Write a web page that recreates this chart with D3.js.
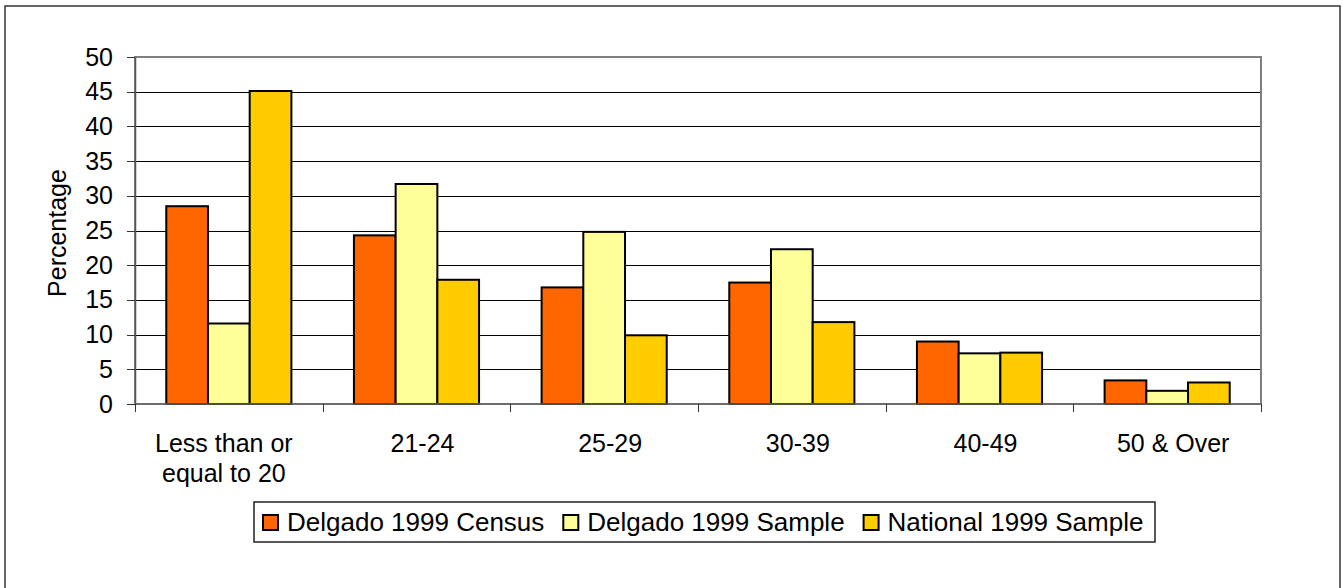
<!DOCTYPE html>
<html>
<head>
<meta charset="utf-8">
<script src="https://cdn.jsdelivr.net/npm/d3@7"></script>
<style>
  html, body { margin: 0; padding: 0; background: #fff; }
  svg { display: block; font-family: "Liberation Sans", Arial, sans-serif; }
</style>
</head>
<body>
<div id="chart"></div>
<script>
// Chart data.
const categories = ["Less than or\nequal to 20", "21-24", "25-29", "30-39", "40-49", "50 & Over"];
const seriesNames = ["Delgado 1999 Census", "Delgado 1999 Sample", "National 1999 Sample"];
const seriesColors = ["#FF6600", "#FFFF99", "#FFCC00"];
const censusValues = [28.5, 24.3, 16.8, 17.5, 9.0, 3.4];
const sampleValues = [11.6, 31.7, 24.8, 22.3, 7.3, 1.9];
const nationalValues = [45.1, 17.9, 9.9, 11.8, 7.4, 3.1];
const yTicks = [0, 5, 10, 15, 20, 25, 30, 35, 40, 45, 50];

document.addEventListener("DOMContentLoaded", function() {
  const width = 1343, height = 588;
  const plot = { left: 135, right: 1261, top: 57, bottom: 404 };

  const svg = d3.select("#chart").append("svg")
    .attr("width", width)
    .attr("height", height);

  // Outer chart border (bottom edge runs off the picture).
  svg.append("rect")
    .attr("x", 5).attr("y", 6)
    .attr("width", 1335).attr("height", 640)
    .attr("fill", "#fff")
    .attr("stroke", "#333")
    .attr("stroke-width", 1.5);

  // Build one row per category.
  const rows = categories.map((c, i) => ({
    category: c,
    values: [censusValues[i], sampleValues[i], nationalValues[i]]
  }));

  const x0 = d3.scaleBand()
    .domain(categories)
    .range([plot.left, plot.right])
    .padding(0);
  const bw = x0.bandwidth();
  // Excel gap width 50%: bars fill the middle two thirds of each band.
  const x1 = d3.scaleBand()
    .domain(d3.range(seriesNames.length))
    .range([bw / 6, bw * 5 / 6]);

  const y = d3.scaleLinear()
    .domain([0, 50])
    .range([plot.bottom, plot.top]);

  // Gridlines.
  svg.append("g")
    .attr("transform", `translate(${plot.left},0)`)
    .call(d3.axisLeft(y).tickValues(yTicks.filter(t => t > 0 && t < 50))
      .tickSize(-(plot.right - plot.left)).tickFormat(""))
    .call(g => g.select(".domain").remove())
    .call(g => g.selectAll("line").attr("stroke", "#000").attr("shape-rendering", "crispEdges"));

  // Plot area border (top and right in gray).
  svg.append("rect")
    .attr("x", plot.left).attr("y", plot.top)
    .attr("width", plot.right - plot.left)
    .attr("height", plot.bottom - plot.top)
    .attr("fill", "none")
    .attr("stroke", "#808080")
    .attr("stroke-width", 1.5)
    .attr("shape-rendering", "crispEdges");

  // Bars.
  const groups = svg.append("g").selectAll("g")
    .data(rows)
    .enter()
    .append("g")
    .attr("transform", d => `translate(${x0(d.category)},0)`);

  groups.selectAll("rect")
    .data(d => d.values)
    .enter()
    .append("rect")
    .attr("x", (d, i) => x1(i))
    .attr("y", d => y(d))
    .attr("width", x1.bandwidth())
    .attr("height", d => y(0) - y(d))
    .attr("fill", (d, i) => seriesColors[i])
    .attr("stroke", "#000")
    .attr("stroke-width", 2);

  // Y axis.
  svg.append("g")
    .attr("transform", `translate(${plot.left},0)`)
    .call(d3.axisLeft(y).tickValues(yTicks).tickSize(8).tickSizeOuter(0).tickPadding(14))
    .call(g => g.select(".domain").attr("stroke", "#555").attr("stroke-width", 1.5))
    .call(g => g.selectAll(".tick line").attr("stroke", "#333").attr("shape-rendering", "crispEdges"))
    .call(g => g.selectAll("text")
      .attr("fill", "#000")
      .style("font-size", "25px")
      .style("font-family", "'Liberation Sans', Arial, sans-serif"));

  // X axis line and boundary ticks.
  const xAxis = svg.append("g");
  xAxis.append("line")
    .attr("x1", plot.left).attr("x2", plot.right)
    .attr("y1", y(0)).attr("y2", y(0))
    .attr("stroke", "#666")
    .attr("stroke-width", 1.5);
  const boundaries = categories.map(c => x0(c)).concat([x0(categories[categories.length - 1]) + bw]);
  xAxis.selectAll("line.tick")
    .data(boundaries)
    .enter()
    .append("line")
    .attr("class", "tick")
    .attr("x1", d => Math.round(d) + 0.5).attr("x2", d => Math.round(d) + 0.5)
    .attr("y1", y(0)).attr("y2", y(0) + 8)
    .attr("stroke", "#333");

  // Category labels.
  const labels = svg.append("g").selectAll("text")
    .data(categories)
    .enter()
    .append("text")
    .attr("text-anchor", "middle")
    .attr("font-size", "25px")
    .attr("fill", "#000")
    .attr("transform", d => {
      const multi = d.indexOf("\n") >= 0;
      return `translate(${x0(d) + bw / 2 + (multi ? -5 : 6)},452)`;
    });
  labels.selectAll("tspan")
    .data(d => d.split("\n"))
    .enter()
    .append("tspan")
    .attr("x", 0)
    .attr("y", (d, i) => i * 30)
    .text(d => d);

  // Y axis title.
  svg.append("text")
    .attr("transform", "translate(66,233) rotate(-90)")
    .attr("text-anchor", "middle")
    .attr("font-size", "25px")
    .attr("fill", "#000")
    .text("Percentage");

  // Legend.
  const legend = svg.append("g");
  legend.append("rect")
    .attr("x", 254).attr("y", 502)
    .attr("width", 901).attr("height", 40)
    .attr("fill", "#fff")
    .attr("stroke", "#222")
    .attr("stroke-width", 1.5);

  let lx = 262;
  seriesNames.forEach((name, i) => {
    legend.append("rect")
      .attr("x", lx + 1).attr("y", 515)
      .attr("width", 15).attr("height", 15)
      .attr("fill", seriesColors[i])
      .attr("stroke", "#000")
      .attr("stroke-width", 2);
    const t = legend.append("text")
      .attr("x", lx + 25).attr("y", 531)
      .attr("font-size", "26px")
      .attr("fill", "#000")
      .text(name);
    lx = lx + 25 + t.node().getComputedTextLength() + 18;
  });
});
</script>
</body>
</html>
